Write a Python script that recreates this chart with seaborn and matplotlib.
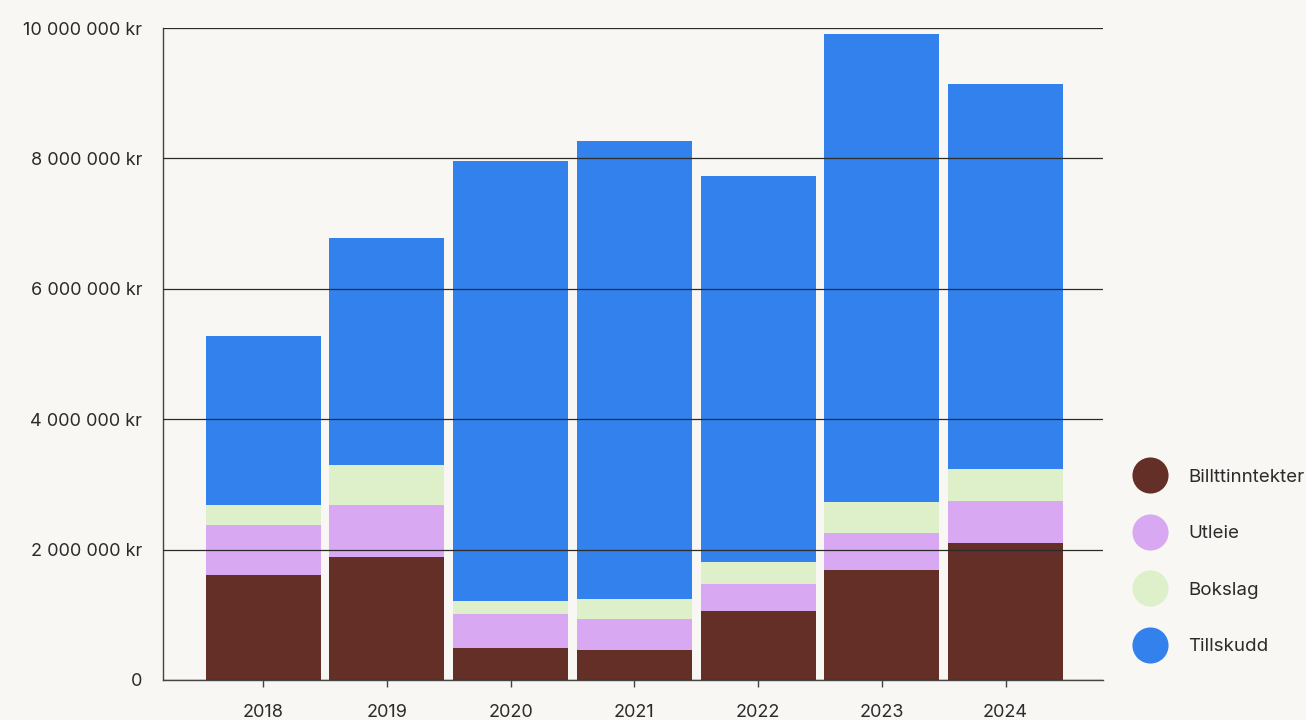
import matplotlib
matplotlib.use("Agg")
import matplotlib.pyplot as plt
import seaborn as sns
import numpy as np
from matplotlib.lines import Line2D
from matplotlib.ticker import FuncFormatter

# Data (NOK)
years = ["2018", "2019", "2020", "2021", "2022", "2023", "2024"]
billett = [1610000, 1890000, 490000, 460000, 1060000, 1690000, 2100000]
utleie = [770000, 790000, 520000, 480000, 410000, 560000, 650000]
bokslag = [310000, 620000, 200000, 300000, 340000, 480000, 490000]
tillskudd = [2590000, 3480000, 6750000, 7030000, 5920000, 7180000, 5900000]

series_names = ["Billttinntekter", "Utleie", "Bokslag", "Tillskudd"]
series_colors = ["#642f27", "#d8a8f3", "#ddf0c9", "#3381ed"]

bg = "#f9f7f3"
sns.set_theme(style="white")
plt.rcParams["font.family"] = ["Inter", "DejaVu Sans"]

fig = plt.figure(figsize=(13.06, 7.2), dpi=100, facecolor=bg)
ax = fig.add_axes([0.1248, 0.0556, 0.72, 0.9055])
ax.set_facecolor(bg)

# stacked bars, one seaborn call per series
bottom = np.zeros(len(years))
for vals, name, col in zip([billett, utleie, bokslag, tillskudd], series_names, series_colors):
    sns.barplot(x=years, y=vals, bottom=bottom, color=col, width=0.93,
                linewidth=0, saturation=1, ax=ax)
    bottom += np.array(vals)

ax.set_xlim(-0.81, 6.79)
ax.set_ylim(0, 10000000)
ax.set_yticks(np.arange(0, 10000001, 2000000))
ax.yaxis.set_major_formatter(FuncFormatter(
    lambda v, p: "0" if v == 0 else f"{int(v):,}".replace(",", " ") + " kr"))

# grid drawn over the bars, like the reference
ax.grid(axis="y", color="#2b2b2b", linewidth=0.9)
ax.set_axisbelow(False)
for s in ["top", "right"]:
    ax.spines[s].set_visible(False)
for s in ["left", "bottom"]:
    ax.spines[s].set_color("#444444")
    ax.spines[s].set_linewidth(1.0)

ax.tick_params(axis="y", length=0, pad=15, labelsize=13, labelcolor="#2b2b2b")
ax.tick_params(axis="x", length=5, width=1, color="#444444", pad=12,
               labelsize=13, labelcolor="#2b2b2b", bottom=True)
ax.set_xlabel("")
ax.set_ylabel("")

handles = [Line2D([0], [0], marker="o", linestyle="", markersize=26,
                  markerfacecolor=c, markeredgewidth=0) for c in series_colors]
leg = ax.legend(handles, series_names, loc="center left",
                bbox_to_anchor=(1.022, 0.181), frameon=False,
                fontsize=13.5, labelspacing=2.1, handletextpad=1.03,
                borderaxespad=0)
for t in leg.get_texts():
    t.set_color("#2b2b2b")

fig.savefig("out.png", dpi=100, facecolor=bg)
